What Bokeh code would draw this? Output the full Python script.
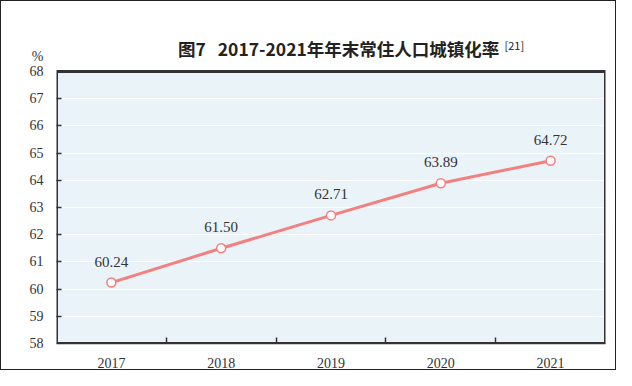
from bokeh.plotting import figure
from bokeh.models import ColumnDataSource, FixedTicker, Range1d, BoxAnnotation
from bokeh.core.properties import value
from bokeh.embed import file_html
from bokeh.resources import INLINE

years = ["2017", "2018", "2019", "2020", "2021"]
rates = [60.24, 61.50, 62.71, 63.89, 64.72]
rate_labels = ["60.24", "61.50", "62.71", "63.89", "64.72"]
y_ticks = [58, 59, 60, 61, 62, 63, 64, 65, 66, 67, 68]
unit_label = "%"
title_text = "图7\u00a0\u00a0\u00a02017-2021年年末常住人口城镇化率"
title_note = "[21]"

y_min, y_max = y_ticks[0], y_ticks[-1]
x_lo, x_hi = -0.5, len(years) - 0.5
px_per_unit = 27.2
top_pad = 50  # pixels of free space above the chart box (for title)
y_top = y_max + top_pad / px_per_unit
unit_pos = y_max + 15 / px_per_unit

xs = list(range(len(years)))
src = ColumnDataSource(dict(x=xs, y=rates, lab=rate_labels))

p = figure(width=616, height=370, output_backend="svg", toolbar_location=None,
           x_range=Range1d(x_lo, x_hi), y_range=Range1d(y_min, y_top),
           min_border_left=55, min_border_right=12, min_border_top=20, min_border_bottom=28)
p.styles = {"border": "1px solid #222"}
p.border_fill_color = "white"
p.background_fill_color = "white"
p.outline_line_color = None

p.add_layout(BoxAnnotation(left=x_lo, right=x_hi, bottom=y_min, top=y_max,
                           fill_color="#EAF4F8", fill_alpha=1,
                           line_color=None, level="image"))
p.add_layout(BoxAnnotation(left=x_lo, right=x_hi, bottom=y_min, top=y_max, fill_alpha=0,
                           fill_color=None, line_color="#333333", line_width=3,
                           line_alpha=1, level="overlay"))

p.xgrid.grid_line_color = None
p.ygrid.ticker = FixedTicker(ticks=y_ticks[1:-1])
p.ygrid.grid_line_color = "white"
p.ygrid.grid_line_width = 1.2

serif = "Liberation Serif"
p.xaxis.ticker = FixedTicker(ticks=xs, minor_ticks=[0.5, 1.5, 2.5, 3.5])
p.xaxis.major_label_overrides = {i: y for i, y in enumerate(years)}
p.xaxis.major_tick_line_color = None
p.xaxis.minor_tick_in = 6
p.xaxis.minor_tick_out = 0
p.xaxis.minor_tick_line_color = "#333333"
p.xaxis.minor_tick_line_width = 1.5
p.xaxis.axis_line_color = "#333333"
p.xaxis.axis_line_width = 1.5
p.xaxis.major_label_text_font = serif
p.xaxis.major_label_text_font_size = "14px"
p.xaxis.major_label_text_color = "#333333"
p.xaxis.major_label_standoff = 8

yo = {t: str(t) for t in y_ticks}
yo[unit_pos] = unit_label
p.yaxis.ticker = FixedTicker(ticks=y_ticks + [unit_pos], minor_ticks=y_ticks[1:-1])
p.yaxis.major_label_overrides = yo
p.yaxis.major_tick_line_color = None
p.yaxis.minor_tick_in = 5
p.yaxis.minor_tick_out = 0
p.yaxis.minor_tick_line_color = "#333333"
p.yaxis.minor_tick_line_width = 1.5
p.yaxis.axis_line_color = None
p.yaxis.major_label_text_font = serif
p.yaxis.major_label_text_font_size = "14px"
p.yaxis.major_label_text_color = "#333333"
p.yaxis.major_label_standoff = 7

line_col = "#F47F7F"
p.line("x", "y", source=src, line_color=line_col, line_width=3)
p.scatter("x", "y", source=src, size=9, fill_color="white", line_color=line_col, line_width=1.5)
p.text("x", "y", text="lab", source=src, y_offset=-16, text_align="center",
       text_baseline="bottom", text_font_size="15px", text_color="#333333",
       text_font=value(serif))

title_y = y_max + 23 / px_per_unit
p.text(x=[2.07], y=[title_y], text=[title_text], text_align="center", text_baseline="middle",
       text_font=value("Noto Sans CJK SC"), text_font_style="bold", text_font_size="17.5px",
       text_color="#222222")
p.text(x=[3.58], y=[title_y + 4 / px_per_unit], text=[title_note], text_align="left",
       text_baseline="middle", text_font=value("Noto Sans CJK SC"), text_font_size="11px",
       text_color="#222222")

open("out.html", "w").write(file_html(p, INLINE))
